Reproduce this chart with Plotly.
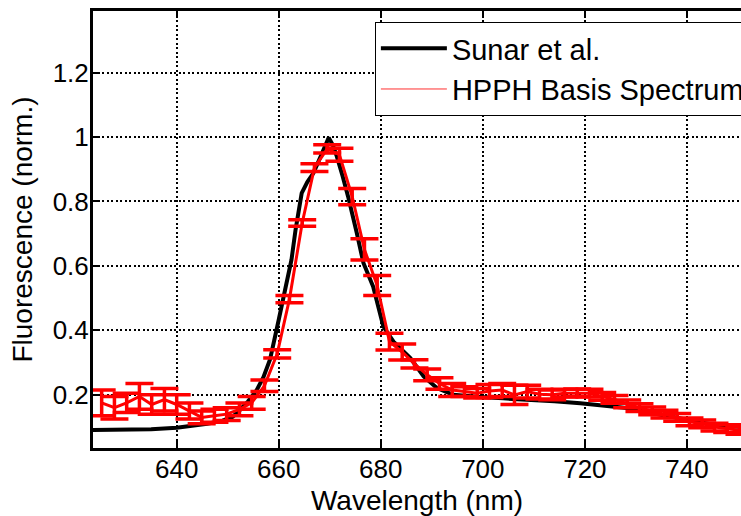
import plotly.graph_objects as go

# Sunar et al. reference spectrum (black)
sunar_x = [623.6, 630.0, 635.0, 640.0, 643.0, 646.0, 649.0, 651.0, 652.4, 654.0, 655.7, 657.0,
           658.3, 659.2, 660.0, 661.3, 662.5, 663.3, 664.5, 665.6, 666.8, 668.5, 669.8,
           670.6, 671.4, 672.5, 673.6, 675.3, 676.6, 678.5, 680.5, 682.5, 684.0, 685.8,
           688.4, 691.0, 694.2, 697.0, 699.5, 704.0, 709.3, 714.0, 719.1, 724.0, 728.2,
           731.5, 734.8, 737.5, 740.0, 742.5, 745.2, 748.0, 750.6]
sunar_y = [0.091, 0.091, 0.093, 0.098, 0.103, 0.110, 0.120, 0.132, 0.153, 0.180, 0.215, 0.255,
           0.310, 0.370, 0.433, 0.530, 0.619, 0.712, 0.826, 0.860, 0.888, 0.950, 0.998,
           0.975, 0.939, 0.880, 0.815, 0.702, 0.609, 0.536, 0.412, 0.365, 0.340, 0.314,
           0.257, 0.221, 0.200, 0.195, 0.193, 0.189, 0.185, 0.180, 0.174, 0.167, 0.159,
           0.148, 0.138, 0.130, 0.122, 0.114, 0.107, 0.103, 0.101]

# HPPH basis spectrum (red, with error bars)
hpph_x = [625.3, 627.8, 630.2, 632.7, 635.1, 637.6, 640.0, 642.5, 644.9, 647.4, 649.8, 652.3,
          654.7, 657.2, 659.7, 662.1, 664.6, 667.0, 669.5, 671.9, 674.4, 676.8, 679.3, 681.7,
          684.2, 686.6, 689.1, 691.5, 694.0, 696.4, 698.9, 701.3, 703.8, 706.2, 708.7, 711.1,
          713.6, 716.0, 718.5, 720.9, 723.4, 725.8, 728.3, 730.7, 733.2, 735.6, 738.1, 740.5,
          743.0, 745.4, 747.9, 750.3]
hpph_y = [0.175, 0.160, 0.175, 0.195, 0.170, 0.185, 0.170, 0.150, 0.130, 0.135, 0.140, 0.155,
          0.175, 0.228, 0.327, 0.497, 0.733, 0.905, 0.963, 0.945, 0.815, 0.651, 0.539, 0.365,
          0.333, 0.296, 0.262, 0.235, 0.215, 0.210, 0.205, 0.212, 0.215, 0.200, 0.210, 0.202,
          0.200, 0.205, 0.206, 0.205, 0.195, 0.186, 0.172, 0.160, 0.150, 0.140, 0.130, 0.116,
          0.110, 0.100, 0.095, 0.090]
hpph_err = [0.040, 0.035, 0.030, 0.040, 0.030, 0.035, 0.030, 0.025, 0.020, 0.020, 0.020, 0.020,
            0.020, 0.018, 0.013, 0.011, 0.010, 0.012, 0.013, 0.020, 0.025, 0.033, 0.031, 0.026,
            0.025, 0.013, 0.018, 0.018, 0.020, 0.015, 0.015, 0.020, 0.020, 0.030, 0.020, 0.015,
            0.015, 0.012, 0.012, 0.012, 0.012, 0.012, 0.012, 0.012, 0.012, 0.012, 0.012, 0.012,
            0.012, 0.012, 0.012, 0.012]

x_ticks = [640, 660, 680, 700, 720, 740]
y_ticks = [0.2, 0.4, 0.6, 0.8, 1.0, 1.2]
y_ticktext = ["0.2", "0.4", "0.6", "0.8", "1", "1.2"]

FONT = "Liberation Sans, Arial, sans-serif"

fig = go.Figure()
fig.add_trace(go.Scatter(x=sunar_x, y=sunar_y, mode="lines", name="Sunar et al.",
                         line=dict(color="black", width=4)))
fig.add_trace(go.Scatter(x=hpph_x, y=hpph_y, mode="lines", showlegend=False,
                         line=dict(color="#ff0000", width=3),
                         error_y=dict(type="data", array=hpph_err, visible=True,
                                      color="#ff0000", thickness=3.5, width=14)))
fig.add_trace(go.Scatter(x=[None], y=[None], mode="lines", name="HPPH Basis Spectrum",
                         line=dict(color="#ff3030", width=1)))

axis_common = dict(showline=True, linecolor="black", linewidth=3, ticks="inside",
                   ticklen=7, tickwidth=2, tickcolor="black", showgrid=True,
                   gridcolor="black", gridwidth=1.5, griddash="2px,2.5px", zeroline=False,
                   tickfont=dict(size=26, color="black", family=FONT))

fig.update_layout(
    width=741, height=516,
    margin=dict(l=93, r=0, t=11, b=68, autoexpand=False),
    paper_bgcolor="white", plot_bgcolor="white",
    font=dict(family=FONT, color="black"),
    xaxis=dict(range=[623.6, 750.6], tickvals=x_ticks, mirror="ticks",
               title=dict(text="Wavelength (nm)", font=dict(size=28), standoff=12),
               ticklabelstandoff=-4, **axis_common),
    yaxis=dict(range=[0.035, 1.391], tickvals=y_ticks, ticktext=y_ticktext, mirror=False,
               title=dict(text="Fluorescence (norm.)", font=dict(size=28), standoff=12),
               ticklabelstandoff=-4, **axis_common),
    legend=dict(x=0.435, y=0.975, xanchor="left", yanchor="top", bgcolor="white",
                bordercolor="black", borderwidth=1, font=dict(size=29, color="black"),
                itemwidth=66, tracegroupgap=0),
)

fig.write_html("out.html")
